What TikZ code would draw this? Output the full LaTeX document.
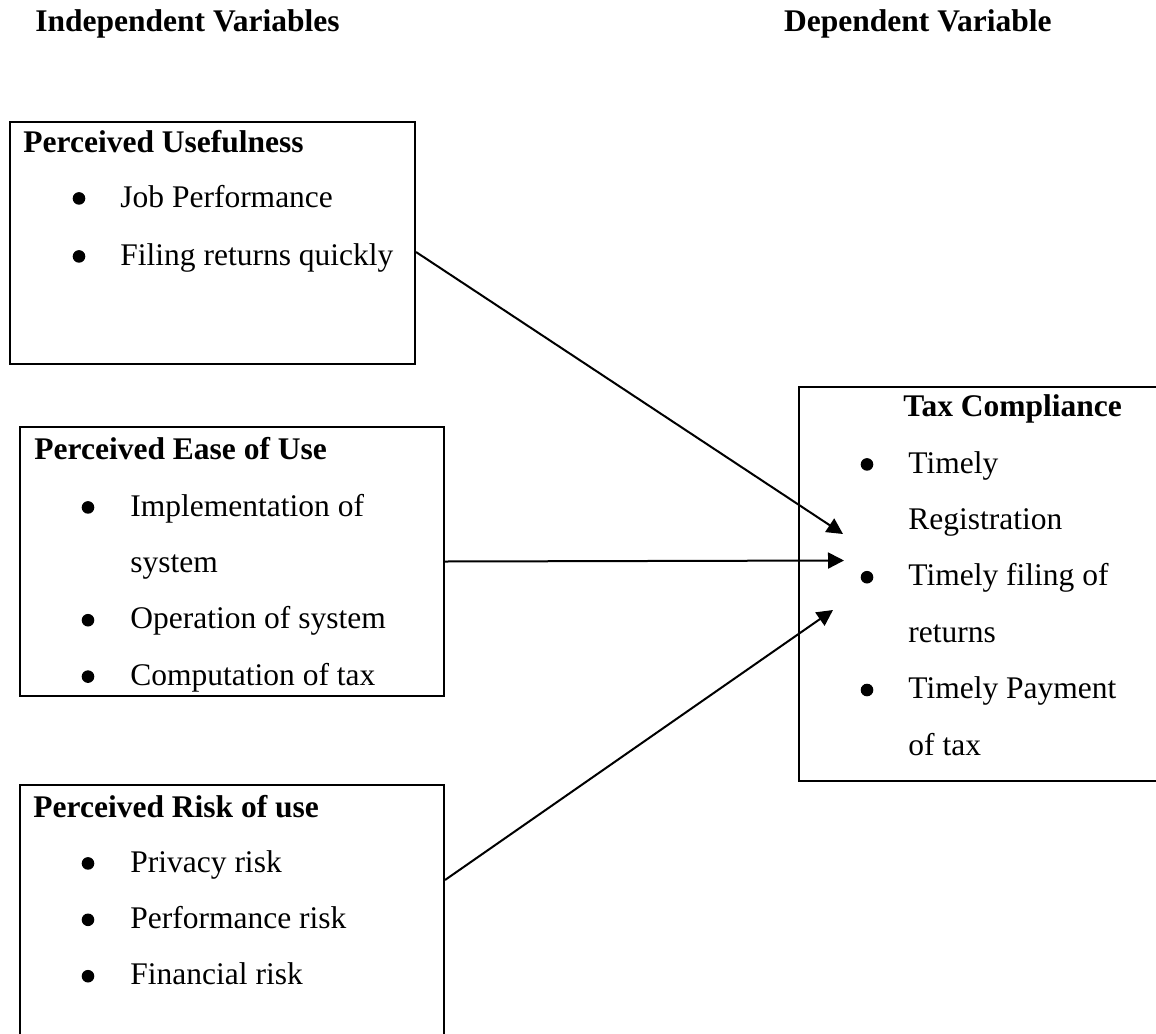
\documentclass[tikz,border=0pt]{standalone}
\usepackage{fontspec}
\setmainfont{Liberation Serif}
\usetikzlibrary{positioning,calc,arrows.meta}

\begin{document}
\begin{tikzpicture}[x=1pt,y=-1pt,
    box/.style={draw, line width=1pt, rectangle, anchor=north west, inner sep=0pt},
    txt/.style={anchor=base west, inner sep=0pt, font=\fontsize{15.75}{18}\selectfont},
    hd/.style={txt, font=\fontsize{15.75}{18}\selectfont\bfseries},
    dot/.style={circle, fill, inner sep=0pt, minimum size=6.3pt, yshift=4.3pt},
    link/.style={line width=1pt, -{Triangle[length=8pt,width=8pt]}}]
    \useasboundingbox (0,0) rectangle (578,516.5);
    % headings
    \node (indep) [hd] at (17.5,16) {Independent Variables};
    \node (dep) [hd, anchor=base east] at (526,16) {Dependent Variable};
    % boxes
    \node (pu) [box, minimum width=202.5pt, minimum height=121pt] at (4.5,60.5) {};
    \node (pe) [box, minimum width=212pt, minimum height=134.5pt] at (9.5,213) {};
    \node (pr) [box, minimum width=212pt, minimum height=140pt] at (9.5,392) {};
    \node (tc) [box, minimum width=190pt, minimum height=197pt] at (399,193) {};
    % perceived usefulness
    \node (putitle) [hd] at (11.5,76) {Perceived Usefulness};
    \foreach \yy/\tt [count=\i] in {103.5/Job Performance, 132.5/Filing returns quickly} {
        \node (pudot\i) [dot] at (39.5,\yy) {};
        \node (pu\i) [txt] at (60,\yy) {\tt};
    }
    % perceived ease of use
    \node (petitle) [hd] at (17,229.5) {Perceived Ease of Use};
    \node (pedot1) [dot] at (44,258) {};
    \node (pe1) [txt] at (65,258) {Implementation of};
    \node (pe1b) [txt] at (65,286.2) {system};
    \node (pedot2) [dot] at (44,314.4) {};
    \node (pe2) [txt] at (65,314.4) {Operation of system};
    \node (pedot3) [dot] at (44,342.6) {};
    \node (pe3) [txt] at (65,342.6) {Computation of tax};
    % perceived risk of use
    \node (prtitle) [hd] at (16.5,408.5) {Perceived Risk of use};
    \foreach \yy/\tt [count=\i] in {436/Privacy risk, 464.2/Performance risk, 492.4/Financial risk} {
        \node (prdot\i) [dot] at (44,\yy) {};
        \node (pr\i) [txt] at (65,\yy) {\tt};
    }
    % tax compliance
    \node (tctitle) [hd] at (451.5,208.3) {Tax Compliance};
    \node (tcdot1) [dot] at (433.5,236.5) {};
    \node (tc1) [txt] at (454,236.5) {Timely};
    \node (tc1b) [txt] at (454,264.7) {Registration};
    \node (tcdot2) [dot] at (433.5,292.9) {};
    \node (tc2) [txt] at (454,292.9) {Timely filing of};
    \node (tc2b) [txt] at (454,321.1) {returns};
    \node (tcdot3) [dot] at (433.5,349.3) {};
    \node (tc3) [txt] at (454,349.3) {Timely Payment};
    \node (tc3b) [txt] at (454,377.5) {of tax};
    % arrows
    \coordinate (t1) at (421.5,267);
    \coordinate (t2) at (422,280.25);
    \coordinate (t3) at (416.5,305);
    \draw[link] ($(pu.north east)+(0,65.5)$) -- (t1);
    \draw[link] (pe.east) -- (t2);
    \draw[link] ($(pr.north east)+(0,48)$) -- (t3);
\end{tikzpicture}
\end{document}
